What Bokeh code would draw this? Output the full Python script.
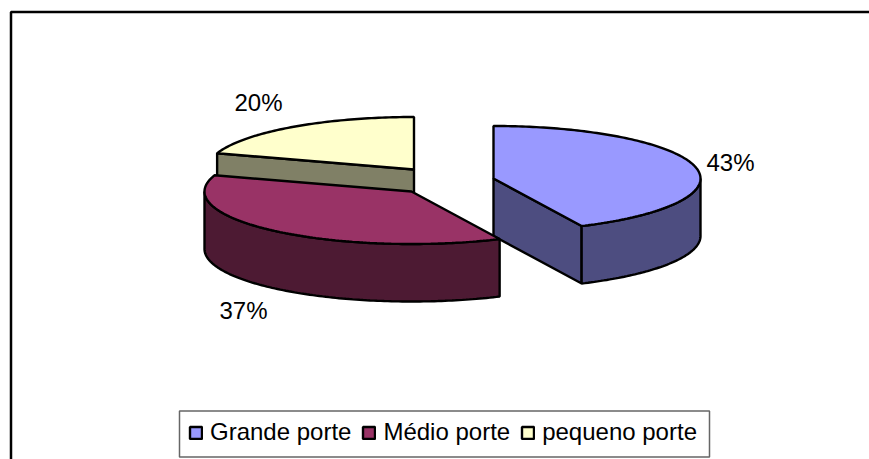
import numpy as np
from bokeh.core.properties import value
from bokeh.embed import file_html
from bokeh.models import Legend, LegendItem, Range1d
from bokeh.plotting import figure
from bokeh.resources import INLINE

categories = ["Grande porte", "Médio porte", "pequeno porte"]
shares = [43, 37, 20]
share_labels = ["43%", "37%", "20%"]
top_colors = ["#9999FF", "#993366", "#FFFFCC"]
side_colors = ["#4D4D80", "#4D1A33", "#808066"]

FONT = "Liberation Sans"
RX, RY, DEPTH = 207.0, 52.5, 57.5
centres = {0: (493.0, 178.0), 1: (411.0, 191.0), 2: (413.5, 169.0)}
label_pos = {0: (730.0, 162.0), 1: (243.0, 310.0), 2: (258.0, 102.0)}

p = figure(width=869, height=459, output_backend="svg", toolbar_location=None,
           x_range=Range1d(0, 869), y_range=Range1d(459, 0),
           min_border=0, outline_line_color=None)
p.xaxis.visible = False
p.yaxis.visible = False
p.grid.visible = False
p.background_fill_color = "white"
p.border_fill_color = "white"

p.line([10.5, 10.5, 869], [459, 11.5, 11.5], line_color="black", line_width=2.5)


def arc(cx, cy, a0, a1, dy=0.0):
    t = np.radians(np.linspace(a0, a1, max(int(abs(a1 - a0)) + 2, 2)))
    return cx + RX * np.sin(t), cy - RY * np.cos(t) + dy


total = sum(shares)
edges = np.cumsum([0] + shares) / total * 360.0
tops = {}
LW = 2.4
for i in (0, 2, 1):
    a0, a1 = edges[i], edges[i + 1]
    cx, cy = centres[i]
    for a in (a0, a1):
        ex, ey = arc(cx, cy, a, a)
        ex, ey = ex[0], ey[0]
        if (i == 0 and a == a1) or (i == 2 and a == a0):
            p.patch([cx, ex, ex, cx], [cy, ey, ey + DEPTH, cy + DEPTH],
                    fill_color=side_colors[i], line_color="black", line_width=LW)
    w0, w1 = max(a0, 90.0), min(a1, 270.0)
    if w1 > w0:
        xa, ya = arc(cx, cy, w0, w1)
        xb, yb = arc(cx, cy, w0, w1, DEPTH)
        p.patch(np.r_[xa, xb[::-1]], np.r_[ya, yb[::-1]],
                fill_color=side_colors[i], line_color="black", line_width=LW)
    xa, ya = arc(cx, cy, a0, a1)
    tops[i] = p.patch(np.r_[cx, xa], np.r_[cy, ya],
                      fill_color=top_colors[i], line_color="black", line_width=LW)

for i, lab in enumerate(share_labels):
    x, y = label_pos[i]
    p.text([x], [y], text=[lab], text_font=value(FONT), text_font_size="24px",
           text_align="center", text_baseline="middle", text_color="black")

# legend frame, drawn as its own box
p.quad(left=[179], right=[709], top=[410.5], bottom=[456.5],
       fill_color="white", line_color="#666666", line_width=1.5)

legend = Legend(items=[LegendItem(label=c, renderers=[tops[i]]) for i, c in enumerate(categories)],
                orientation="horizontal", location=(179, 4),
                border_line_color="white", border_line_alpha=0, background_fill_alpha=0,
                label_text_font=FONT, label_text_font_size="24px", label_text_color="black",
                glyph_width=15, glyph_height=15, label_standoff=7, spacing=10,
                padding=9, margin=0)
p.add_layout(legend)

open("out.html", "w").write(file_html(p, INLINE))
